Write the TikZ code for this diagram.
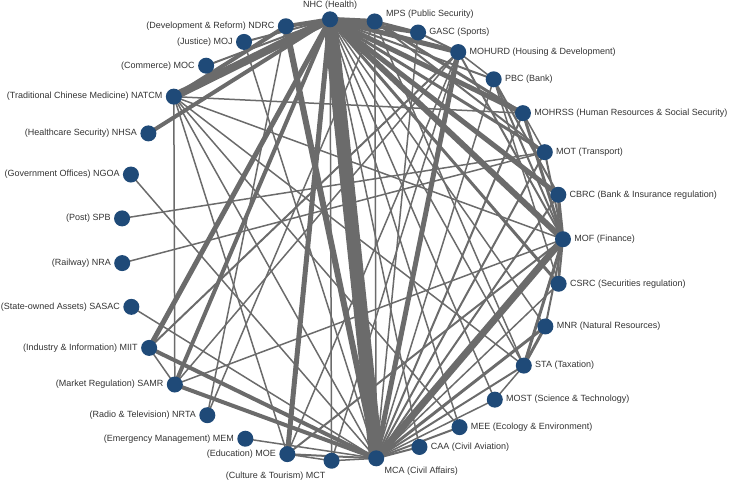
\documentclass[tikz,border=0pt]{standalone}
\usepackage{fontspec}
\setmainfont{Liberation Sans}
\usetikzlibrary{backgrounds}
\definecolor{deptblue}{HTML}{1F4A78}
\definecolor{linkgray}{HTML}{6B6B6B}
\definecolor{txtgray}{HTML}{333333}

\begin{document}
\begin{tikzpicture}[x=1pt, y=1pt, font=\fontsize{9}{11}\selectfont,
    label distance=2pt,
    dept/.style={circle, fill=deptblue, minimum size=16pt, inner sep=0pt},
    every label/.style={text=txtgray, inner sep=1pt},
    link/.style={draw=linkgray}]
  \useasboundingbox (0,0) rectangle (729,483);

  % departments on a circle, clockwise from NHC
  \begin{scope}[shift={(342,243)}]
    \node[dept, label={[yshift=-1pt]above:NHC (Health)}] (NHC) at (93.10:221) {};
    \node[dept, label={[yshift=7pt]right:MPS (Public Security)}] (MPS) at (81.49:221) {};
    \node[dept, label={right:GASC (Sports)}] (GASC) at (69.87:221) {};
    \node[dept, label={right:MOHURD (Housing \& Development)}] (MOHURD) at (58.26:221) {};
    \node[dept, label={right:PBC (Bank)}] (PBC) at (46.65:221) {};
    \node[dept, label={right:MOHRSS (Human Resources \& Social Security)}] (MOHRSS) at (35.03:221) {};
    \node[dept, label={right:MOT (Transport)}] (MOT) at (23.42:221) {};
    \node[dept, label={right:CBRC (Bank \& Insurance regulation)}] (CBRC) at (11.81:221) {};
    \node[dept, label={right:MOF (Finance)}] (MOF) at (0.20:221) {};
    \node[dept, label={right:CSRC (Securities regulation)}] (CSRC) at (-11.42:221) {};
    \node[dept, label={right:MNR (Natural Resources)}] (MNR) at (-23.03:221) {};
    \node[dept, label={right:STA (Taxation)}] (STA) at (-34.64:221) {};
    \node[dept, label={right:MOST (Science \& Technology)}] (MOST) at (-46.25:221) {};
    \node[dept, label={right:MEE (Ecology \& Environment)}] (MEE) at (-57.87:221) {};
    \node[dept, label={right:CAA (Civil Aviation)}] (CAA) at (-69.48:221) {};
    \node[dept, label={[anchor=north west]-45:MCA (Civil Affairs)}] (MCA) at (-81.09:221) {};
    \node[dept, label={[anchor=north east, xshift=-5pt]below:(Culture \& Tourism) MCT}] (MCT) at (-92.71:221) {};
    \node[dept, label={left:(Education) MOE}] (MOE) at (-104.32:221) {};
    \node[dept, label={left:(Emergency Management) MEM}] (MEM) at (-115.94:221) {};
    \node[dept, label={left:(Radio \& Television) NRTA}] (NRTA) at (-127.55:221) {};
    \node[dept, label={left:(Market Regulation) SAMR}] (SAMR) at (-139.16:221) {};
    \node[dept, label={left:(Industry \& Information) MIIT}] (MIIT) at (-150.77:221) {};
    \node[dept, label={left:(State-owned Assets) SASAC}] (SASAC) at (-162.39:221) {};
    \node[dept, label={left:(Railway) NRA}] (NRA) at (-174.00:221) {};
    \node[dept, label={left:(Post) SPB}] (SPB) at (-185.61:221) {};
    \node[dept, label={left:(Government Offices) NGOA}] (NGOA) at (-197.23:221) {};
    \node[dept, label={left:(Healthcare Security) NHSA}] (NHSA) at (-208.84:221) {};
    \node[dept, label={left:(Traditional Chinese Medicine) NATCM}] (NATCM) at (-220.45:221) {};
    \node[dept, label={left:(Commerce) MOC}] (MOC) at (-232.06:221) {};
    \node[dept, label={left:(Justice) MOJ}] (MOJ) at (-243.68:221) {};
    \node[dept, label={left:(Development \& Reform) NDRC}] (NDRC) at (-255.29:221) {};
  \end{scope}

  % co-issuing links, width = strength
  \begin{scope}[on background layer]
    \foreach \a/\b/\w in {NHC/MCA/14, NHC/NATCM/8, NHC/MOF/6, NHC/MOHURD/5,
        NHC/MOHRSS/5, NHC/CBRC/5, NHC/MIIT/5, NHC/MOE/5, NHC/SAMR/4,
        NHC/NHSA/4, NHC/MPS/5, NHC/GASC/4, NHC/NDRC/4, NHC/MOT/3,
        NHC/MOJ/2, NHC/MOC/2, NHC/PBC/2, NHC/STA/1.5, NHC/MNR/1.5,
        NHC/MOST/1.5, NHC/MCT/1.5, NHC/CSRC/3, NHC/MEE/1.5, NHC/CAA/1.5,
        MCA/MOF/7, MCA/NDRC/6, MCA/MOHURD/5, MCA/MIIT/4, MCA/SAMR/4,
        MCA/MNR/3, MCA/MOHRSS/2, MCA/CBRC/2, MCA/MOT/2, MCA/STA/2,
        MCA/PBC/1.5, MCA/CSRC/1.5, MCA/MPS/1.5, MCA/GASC/1.5,
        MCA/NATCM/1.5, MCA/NGOA/1.5, MCA/SASAC/1.5, MCA/MOJ/1.5,
        MCA/MEM/1.5, MCA/MOE/2, MCA/MCT/1.5, MCA/CAA/2, MCA/MEE/2,
        MCA/MOST/1.5,
        MPS/GASC/3, MPS/MOHRSS/3, MPS/MOT/2, MPS/STA/1.5, MPS/NRTA/1.5,
        GASC/MOHURD/2, MOHURD/PBC/1.5, MOHURD/MOF/2, MOHURD/MIIT/2,
        MOHURD/MOE/1.5, MOHURD/MCT/1.5, MOHURD/SAMR/1.5,
        PBC/MOF/2, PBC/CBRC/2, PBC/CSRC/1.5,
        MOHRSS/MOF/3, MOHRSS/MOT/1.5, MOHRSS/NATCM/1.5, MOT/MOF/2,
        MOT/SPB/1.5, MOT/NRA/1.5, CBRC/MOF/3, CBRC/CSRC/2, MOF/CSRC/2,
        MOF/MNR/2, MOF/STA/3, MOF/NATCM/1.5, MOF/MOE/2, MOF/SAMR/1.5,
        MNR/STA/3, STA/MOST/1.5, STA/NATCM/1.5, NATCM/SAMR/1.5,
        NATCM/MOE/1.5, NATCM/MEE/1.5, NATCM/NDRC/4,
        NDRC/NRTA/1.5, MIIT/SAMR/1.5, MOE/MCT/1.5}
      \draw[link, line width=\w pt] (\a.center) -- (\b.center);
  \end{scope}
\end{tikzpicture}
\end{document}
